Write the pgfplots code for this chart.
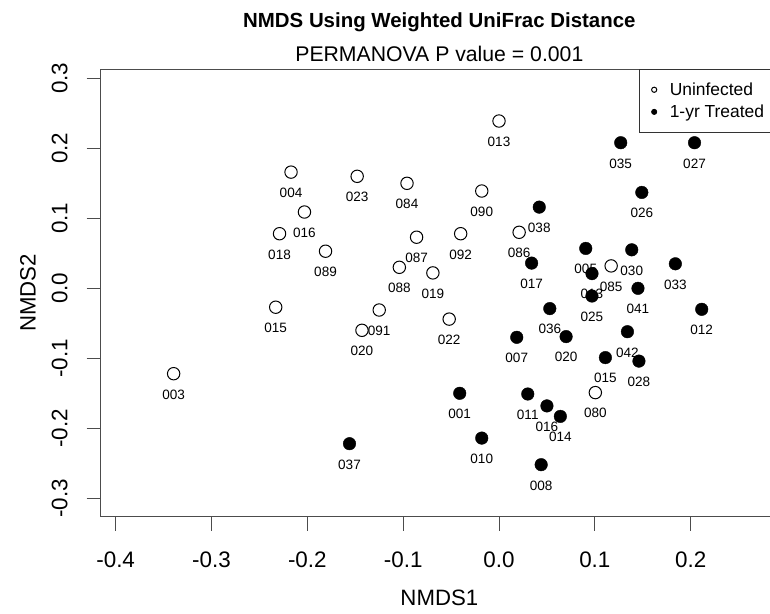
\documentclass[border=0pt]{standalone}
\usepackage{fontspec}
\setmainfont{Liberation Sans}
\usepackage{pgfplots}
\usepackage{pgfplotstable}
\pgfplotsset{compat=1.18}
\newcommand{\fsz}[1]{\fontsize{#1}{#1}\selectfont}

% NMDS scores
\pgfplotstableread{
x y label
0.000 0.239 013
-0.217 0.166 004
-0.148 0.160 023
-0.096 0.150 084
-0.018 0.139 090
-0.203 0.109 016
-0.229 0.078 018
-0.181 0.053 089
-0.086 0.073 087
-0.040 0.078 092
0.021 0.080 086
-0.104 0.030 088
-0.069 0.022 019
-0.233 -0.027 015
-0.125 -0.031 091
-0.052 -0.044 022
-0.143 -0.060 020
0.117 0.032 085
0.1005 -0.149 080
-0.3395 -0.122 003
}\uninf

\pgfplotstableread{
x y label
0.042 0.116 038
0.034 0.036 017
0.127 0.208 035
0.204 0.208 027
0.149 0.137 026
0.0905 0.057 005
0.1385 0.055 030
0.184 0.035 033
0.097 0.021 013
0.145 0.000 041
0.097 -0.011 025
0.053 -0.029 036
0.2115 -0.030 012
0.134 -0.062 042
0.0185 -0.070 007
0.070 -0.069 020
0.111 -0.099 015
0.146 -0.104 028
-0.041 -0.150 001
0.030 -0.151 011
0.050 -0.168 016
0.064 -0.183 014
-0.018 -0.214 010
0.044 -0.252 008
-0.156 -0.222 037
}\treat

\begin{document}
\begin{tikzpicture}
\begin{axis}[
  name=ax,
  at={(0,0)}, anchor=south west,
  scale only axis,
  width=677.3bp, height=447.4bp,
  xmin=-0.4156, xmax=0.2911,
  ymin=-0.3263, ymax=0.3129,
  xtick={-0.4,-0.3,-0.2,-0.1,0,0.1,0.2},
  ytick={-0.3,-0.2,-0.1,0,0.1,0.2,0.3},
  xtick pos=lower, ytick pos=left,
  tick align=outside,
  major tick length=14bp,
  axis line style={black!70, line width=1bp},
  tick style={black!70, line width=1bp},
  /pgf/number format/.cd, fixed, fixed zerofill, precision=1, assume math mode=true,
  /pgfplots/.cd,
  tick label style={font=\fsz{22.5}, inner sep=0pt},
  xticklabel style={anchor=north},
  yticklabel style={rotate=90, anchor=south},
  xticklabel shift=21bp,
  yticklabel shift=19bp,
  xlabel={NMDS1}, ylabel={NMDS2},
  label style={font=\fsz{22.3}, inner sep=0pt},
  xlabel style={at={(axis description cs:0.5,-0.1817)}, anchor=center},
  ylabel style={at={(axis description cs:-0.1073,0.5)}, anchor=center},
  legend style={at={(1,1)}, anchor=north east, draw=black!80, line width=0.8bp,
    font=\fsz{17.5}, inner xsep=12.5bp, inner ysep=12bp, row sep=6bp,
    nodes={inner sep=1bp}, cells={anchor=west},
    /tikz/every odd column/.append style={column sep=12bp}},
  legend image code/.code={\draw[#1, mark size=2.6bp, line width=0.8bp] plot coordinates {(0bp,0bp)};},
]
% labels first, so that the points sit on top of them
\addplot[only marks, mark=none, forget plot, point meta=explicit symbolic,
  nodes near coords,
  nodes near coords style={font=\fsz{13.6}, anchor=center, yshift=-20.7bp, inner sep=0pt, text=black}]
  table[x=x, y=y, meta=label] {\uninf};
\addplot[only marks, mark=none, forget plot, point meta=explicit symbolic,
  nodes near coords,
  nodes near coords style={font=\fsz{13.6}, anchor=center, yshift=-20.7bp, inner sep=0pt, text=black}]
  table[x=x, y=y, meta=label] {\treat};

\addplot[only marks, mark=o, mark size=6.2bp, mark options={line width=1bp, draw=black}]
  table[x=x, y=y] {\uninf};
\addlegendentry{Uninfected}
\addplot[only marks, mark=*, mark size=6.3bp, mark options={fill=black, draw=black}]
  table[x=x, y=y] {\treat};
\addlegendentry{1-yr Treated}
\end{axis}
\node[anchor=base, font=\bfseries\fsz{20.5}] at ([yshift=41.9bp]ax.north) {NMDS Using Weighted UniFrac Distance};
\node[anchor=base, font=\fsz{21.3}] at ([yshift=7.6bp]ax.north) {PERMANOVA P value = 0.001};
\pgfresetboundingbox
\path (-100.7bp,-97.3bp) rectangle (669.3bp,516.7bp);
\end{tikzpicture}
\end{document}
